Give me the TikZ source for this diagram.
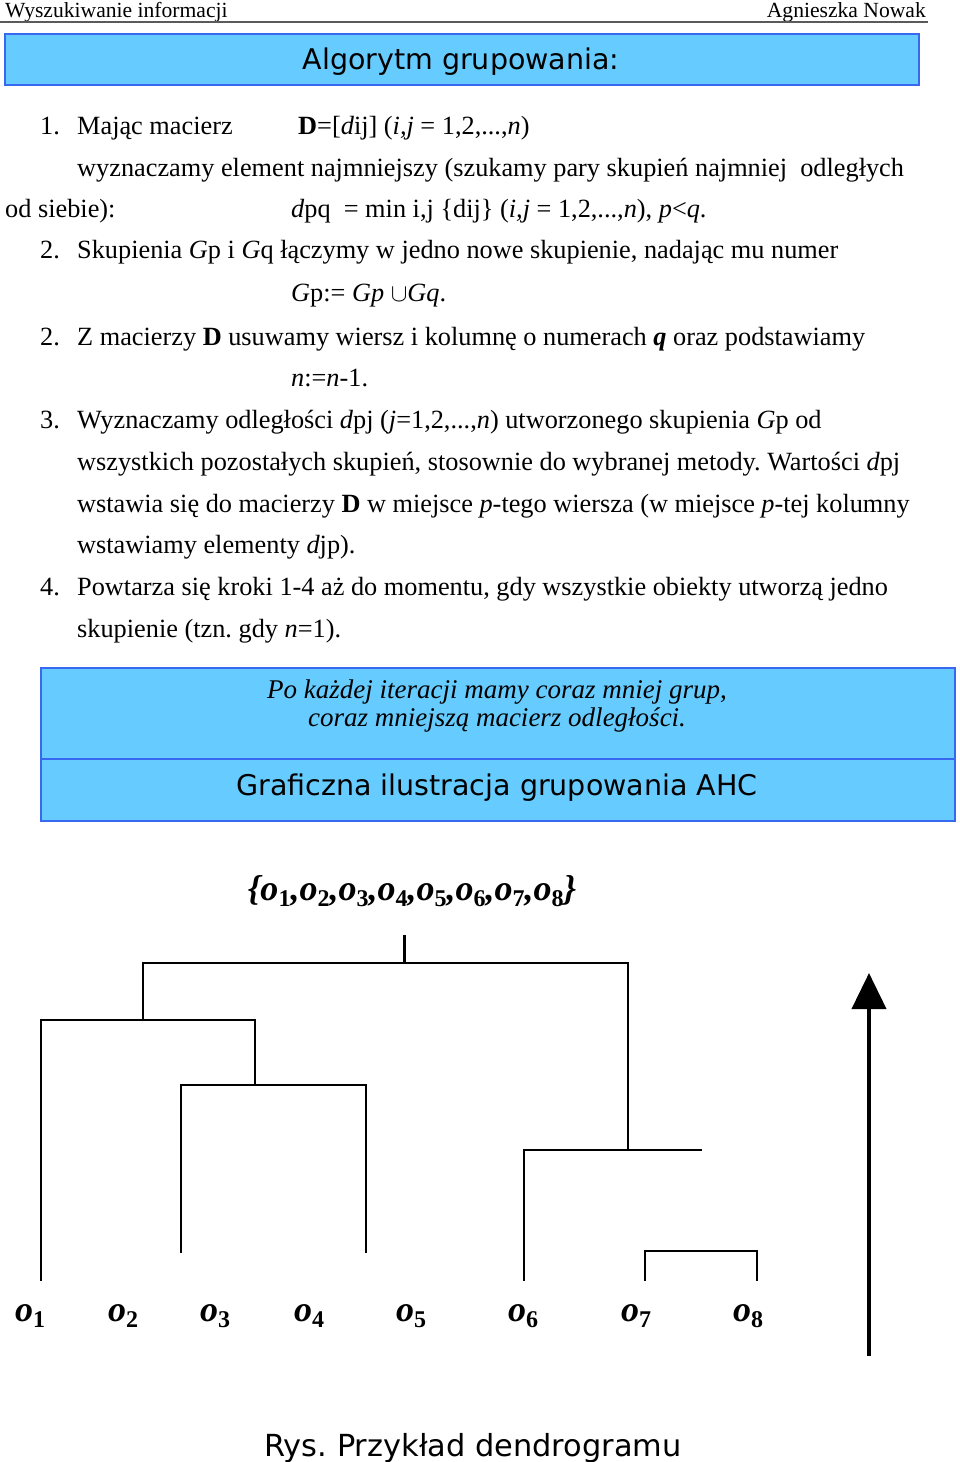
\documentclass[tikz,border=0pt]{standalone}
\usepackage{fontspec}
\setmainfont{Liberation Serif}
\newfontfamily\boxfont{DejaVu Sans}
\usepackage{tikz}
\usetikzlibrary{arrows.meta}
\definecolor{boxblue}{RGB}{102,204,255}
\definecolor{edgeblue}{RGB}{55,105,240}
\definecolor{rulegray}{RGB}{90,90,90}
% lowered object index
\newcommand{\idx}[1]{\raisebox{-6pt}{\fontsize{24}{24}\selectfont\upshape #1}}
\frenchspacing

\begin{document}
\begin{tikzpicture}[x=1pt,y=-1pt,
  txt/.style={anchor=base west,inner sep=0pt,font=\fontsize{26.3}{30}\selectfont},
  boxed/.style={draw=edgeblue,fill=boxblue,line width=2pt,inner sep=0pt,anchor=north west},
  heading/.style={anchor=base,inner sep=0pt,font=\boxfont\fontsize{28.5}{32}\selectfont},
  leaf/.style={anchor=base west,inner sep=0pt,font=\fontsize{36}{36}\selectfont\bfseries\itshape},
  branch/.style={line width=2.5pt}]
\useasboundingbox (0,0) rectangle (960,1462);
% Page header
\node[anchor=base west,inner sep=0pt,font=\fontsize{21.6}{24}\selectfont] (hleft) at (5,17) {Wyszukiwanie informacji};
\node[anchor=base east,inner sep=0pt,font=\fontsize{21.6}{24}\selectfont] (hright) at (926,17) {Agnieszka Nowak};
\draw[rulegray,line width=1.5pt] (0,22) -- (928,22);
% Title box
\node[boxed,minimum width=914pt,minimum height=51pt] (titlebox) at (4,33) {};
\node[heading] (title) at (461,69) {Algorytm grupowania:};
% Algorithm steps
\node[txt] (n1) at (40,134) {1.};
\node[txt] (s1a) at (77,134) {Mając macierz};
\node[txt] (s1b) at (298,134) {\textbf{D}=[\textit{d}ij] (\textit{i,j} = 1,2,...,\textit{n})};
\node[txt] (s1c) at (77,176) {wyznaczamy element najmniejszy (szukamy pary skupień najmniej\ \ odległych};
\node[txt] (s1d) at (5,217) {od siebie):};
\node[txt] (s1e) at (291,217) {\textit{d}pq\ \ = min i,j \{dij\} (\textit{i,j} = 1,2,...,\textit{n}), \textit{p}<\textit{q}.};
\node[txt] (n2) at (40,258) {2.};
\node[txt] (s2a) at (77,258) {Skupienia \textit{G}p i \textit{G}q łączymy w jedno nowe skupienie, nadając mu numer};
\node[txt] (s2b) at (291,301) {\textit{G}p:= \textit{Gp} $\cup$\textit{Gq}.};
\node[txt] (n2b) at (40,345) {2.};
\node[txt] (s3a) at (77,345) {Z macierzy \textbf{D} usuwamy wiersz i kolumnę o numerach \textbf{\textit{q}} oraz podstawiamy};
\node[txt] (s3b) at (291,386) {\textit{n}:=\textit{n}-1.};
\node[txt] (n3) at (40,428) {3.};
\node[txt] (s4a) at (77,428) {Wyznaczamy odległości \textit{d}pj (\textit{j}=1,2,...,\textit{n}) utworzonego skupienia \textit{G}p od};
\node[txt] (s4b) at (77,470) {wszystkich pozostałych skupień, stosownie do wybranej metody. Wartości \textit{d}pj};
\node[txt] (s4c) at (77,512) {wstawia się do macierzy \textbf{D} w miejsce \textit{p}-tego wiersza (w miejsce \textit{p}-tej kolumny};
\node[txt] (s4d) at (77,553) {wstawiamy elementy \textit{d}jp).};
\node[txt] (n4) at (40,595) {4.};
\node[txt] (s5a) at (77,595) {Powtarza się kroki 1-4 aż do momentu, gdy wszystkie obiekty utworzą jedno};
\node[txt] (s5b) at (77,637) {skupienie (tzn. gdy \textit{n}=1).};
% Note and heading boxes
\node[boxed,minimum width=914pt,minimum height=91pt] (notebox) at (40,667) {};
\node[boxed,minimum width=914pt,minimum height=62pt] (headbox) at (40,758) {};
\node[anchor=base,inner sep=0pt,font=\fontsize{27}{28}\selectfont\itshape] (note1) at (497,698) {Po każdej iteracji mamy coraz mniej grup,};
\node[anchor=base,inner sep=0pt,font=\fontsize{27}{28}\selectfont\itshape] (note2) at (497,726) {coraz mniejszą macierz odległości.};
\node[heading] (head) at (497,795) {Graficzna ilustracja grupowania AHC};
% Dendrogram
\node[leaf,anchor=base] (all) at (412,900) {\{o\idx{1},o\idx{2},o\idx{3},o\idx{4},o\idx{5},o\idx{6},o\idx{7},o\idx{8}\}};
\foreach \i/\x in {1/15,2/108,3/200,4/294,5/396,6/508,7/621,8/733}
  \node[leaf] (o\i) at (\x,1321) {o\idx{\i}};
\coordinate (root) at (404,935);
\coordinate (top) at (404,963);
\coordinate (jA) at (143,1020);
\coordinate (jB) at (628,1150);
\coordinate (jBend) at (702,1150);
\coordinate (jC) at (255,1085);
\coordinate (jD) at (701,1251);
\coordinate (leaf1) at (41,1281);
\coordinate (leaf2) at (181,1253);
\coordinate (leaf3) at (366,1253);
\coordinate (leaf6) at (524,1281);
\coordinate (leaf7) at (645,1281);
\coordinate (leaf8) at (757,1281);
\draw[branch,line width=3pt] (root) -- (top);
\draw[branch] (jA) |- (top) -| (jB);
\draw[branch] (leaf1) |- (jA) -| (jC);
\draw[branch] (leaf2) |- (jC) -| (leaf3);
\draw[branch] (leaf6) |- (jB) -- (jBend);
\draw[branch] (leaf7) |- (jD) -| (leaf8);
% Height axis
\coordinate (abase) at (869,1356);
\coordinate (atip) at (869,973);
\draw[line width=4pt,-{Triangle[width=34pt,length=36pt]}] (abase) -- (atip);
% Caption
\node[anchor=base,inner sep=0pt,font=\boxfont\fontsize{30.4}{34}\selectfont] (caption) at (473,1456) {Rys. Przykład dendrogramu};
\end{tikzpicture}
\end{document}
